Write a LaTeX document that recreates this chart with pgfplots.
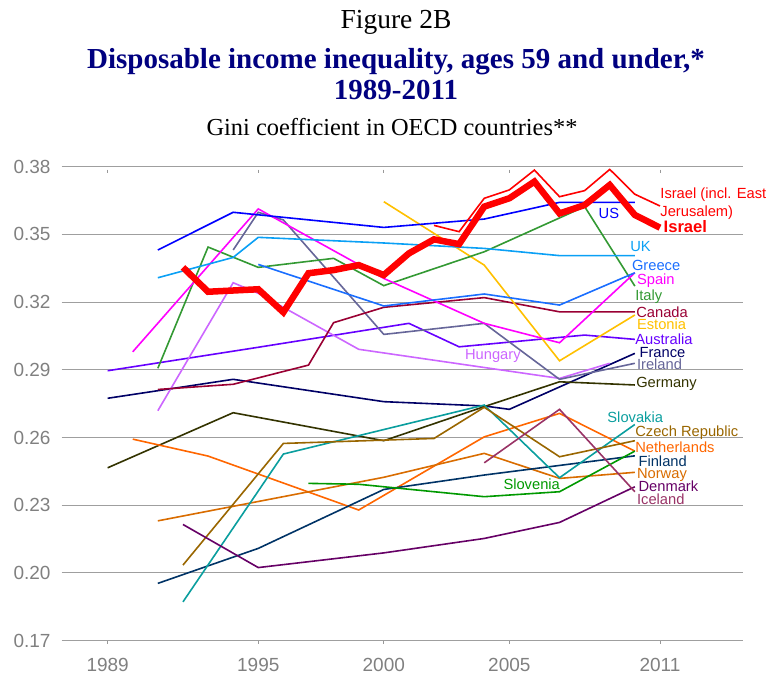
\documentclass[border=0pt]{standalone}
\usepackage{fontspec}
\setmainfont{Liberation Sans}
\newfontfamily\seriffont{Liberation Serif}
\usepackage{pgfplots}
\pgfplotsset{compat=1.18}
\definecolor{navyt}{HTML}{000080}
\definecolor{cIsr}{HTML}{FF0000}
\definecolor{cUS}{HTML}{0000FF}
\definecolor{cUK}{HTML}{0AA0F5}
\definecolor{cGre}{HTML}{1A6EFF}
\definecolor{cSpa}{HTML}{FF00FF}
\definecolor{cIta}{HTML}{339933}
\definecolor{cCan}{HTML}{990033}
\definecolor{cEst}{HTML}{FFC000}
\definecolor{cAus}{HTML}{6600FF}
\definecolor{cFra}{HTML}{000066}
\definecolor{cIre}{HTML}{666699}
\definecolor{cHun}{HTML}{CC66FF}
\definecolor{cGer}{HTML}{333300}
\definecolor{cSvk}{HTML}{0A9E9E}
\definecolor{cCze}{HTML}{996600}
\definecolor{cNet}{HTML}{FF6600}
\definecolor{cNor}{HTML}{D96C00}
\definecolor{cFin}{HTML}{003366}
\definecolor{cSvn}{HTML}{009900}
\definecolor{cDen}{HTML}{660066}
\definecolor{cIce}{HTML}{993366}
\tikzset{lbl/.style={anchor=west, inner sep=0pt, text height=10.5pt, text depth=0pt, font=\fontsize{14.7}{16}\selectfont}}
\begin{document}
\begin{tikzpicture}
\path[use as bounding box] (-61.7pt,-36.3pt) rectangle (705.3pt,640.7pt);
\begin{axis}[
  at={(0pt,0pt)}, anchor=south west,
  scale only axis, width=681.6pt, height=474pt,
  xmin=1987.17, xmax=2014.32, ymin=0.17, ymax=0.38,
  axis line style={draw=none},
  ymajorgrids, grid style={gray!75, line width=1pt},
  xtick={1989,1995,2000,2005,2011},
  xticklabels={1989,1995,2000,2005,2011},
  ytick={0.17,0.20,0.23,0.26,0.29,0.32,0.35,0.38},
  yticklabels={0.17,0.20,0.23,0.26,0.29,0.32,0.35,0.38},
  tick label style={font=\fontsize{19}{22}\selectfont, text=black!50},
  ytick style={draw=none},
  xtick style={draw=gray!80, line width=0.8pt, yshift=-3pt},
  tick align=inside, major tick length=3pt,
  yticklabel style={anchor=east, inner sep=0pt, xshift=-11pt},
  xticklabel style={anchor=base, inner sep=0pt, yshift=-30.3pt},
  clip=false,
  every axis plot/.append style={line width=1.6pt, mark=none},
]
% Australia
\addplot[cAus] coordinates {(1989,0.2896)(1995,0.3000)(2001,0.3106)(2003,0.3002)(2008,0.3054)(2010,0.3035)};
% France
\addplot[cFra] coordinates {(1989,0.2774)(1994,0.2858)(2000,0.2759)(2004,0.2740)(2005,0.2725)(2010,0.2973)};
% Germany
\addplot[cGer] coordinates {(1989,0.2466)(1994,0.2710)(2000,0.2586)(2004,0.2737)(2007,0.2847)(2010,0.2833)};
% Netherlands
\addplot[cNet] coordinates {(1990,0.2593)(1993,0.2518)(1999,0.2279)(2004,0.2603)(2007,0.2707)(2010,0.2540)};
% Norway
\addplot[cNor] coordinates {(1991,0.2231)(2000,0.2424)(2004,0.2530)(2007,0.2419)(2010,0.2446)};
% Finland
\addplot[cFin] coordinates {(1991,0.1954)(1995,0.2109)(2000,0.2370)(2004,0.2434)(2010,0.2519)};
% Slovakia
\addplot[cSvk] coordinates {(1992,0.1872)(1996,0.2527)(2004,0.2744)(2007,0.2422)(2010,0.2658)};
% Czech Republic
\addplot[cCze] coordinates {(1992,0.2035)(1996,0.2574)(2002,0.2596)(2004,0.2734)(2007,0.2515)(2010,0.2586)};
% Slovenia
\addplot[cSvn] coordinates {(1997,0.2397)(1999,0.2393)(2004,0.2338)(2007,0.2360)(2010,0.2540)};
% Denmark
\addplot[cDen] coordinates {(1992,0.2215)(1995,0.2024)(2000,0.2089)(2004,0.2153)(2007,0.2224)(2010,0.2382)};
% Iceland
\addplot[cIce] coordinates {(2004,0.2488)(2007,0.2725)(2010,0.2360)};
% Hungary
\addplot[cHun] coordinates {(1991,0.2719)(1994,0.3286)(1995,0.3239)(1999,0.2991)(2007,0.2862)(2009,0.2929)};
% Ireland
\addplot[cIre] coordinates {(1994,0.3431)(1995,0.3598)(1996,0.3564)(2000,0.3057)(2004,0.3106)(2007,0.2858)(2010,0.2929)};
% Canada
\addplot[cCan] coordinates {(1991,0.2813)(1994,0.2836)(1997,0.2921)(1998,0.3109)(2000,0.3177)(2004,0.3220)(2007,0.3157)(2010,0.3157)};
% Estonia
\addplot[cEst] coordinates {(2000,0.3645)(2004,0.3364)(2007,0.2940)(2010,0.3143)};
% Italy
\addplot[cIta] coordinates {(1991,0.2907)(1993,0.3444)(1995,0.3354)(1998,0.3394)(2000,0.3273)(2004,0.3423)(2008,0.3623)(2010,0.3271)};
% Spain
\addplot[cSpa] coordinates {(1990,0.2980)(1995,0.3613)(2000,0.3305)(2004,0.3106)(2007,0.3020)(2010,0.3330)};
% Greece
\addplot[cGre] coordinates {(1995,0.3367)(2000,0.3183)(2004,0.3236)(2007,0.3187)(2010,0.3330)};
% UK
\addplot[cUK] coordinates {(1991,0.3308)(1994,0.3398)(1995,0.3487)(2000,0.3462)(2004,0.3438)(2007,0.3406)(2010,0.3406)};
% US
\addplot[cUS] coordinates {(1991,0.3431)(1994,0.3598)(2000,0.3531)(2004,0.3568)(2007,0.3642)(2010,0.3642)};
% Israel
\addplot[cIsr, line width=6.5pt, line join=miter] coordinates {(1992,0.3354)(1993,0.3246)(1995,0.3257)(1996,0.3155)(1997,0.3328)(1998,0.3342)(1999,0.3364)(2000,0.3320)(2001,0.3416)(2002,0.3478)(2003,0.3457)(2004,0.3623)(2005,0.3660)(2006,0.3734)(2007,0.3593)(2008,0.3630)(2009,0.3719)(2010,0.3586)(2011,0.3530)};
% Israel incl. East Jerusalem
\addplot[cIsr] coordinates {(2002,0.3540)(2003,0.3512)(2004,0.3660)(2005,0.3697)(2006,0.3785)(2007,0.3667)(2008,0.3694)(2009,0.3788)(2010,0.3678)(2011,0.3626)};

\node[lbl, text=cIsr] at (axis cs:2011.01,0.3682) {Israel (incl. East};
\node[lbl, text=cIsr] at (axis cs:2011.01,0.3604) {Jerusalem)};
\node[lbl, text=cIsr, font=\bfseries\fontsize{16.6}{18}\selectfont, text height=12pt] at (axis cs:2011.14,0.3533) {Israel};
\node[lbl, text=cUS] at (axis cs:2008.55,0.3595) {US};
\node[lbl, text=cUK] at (axis cs:2009.81,0.3449) {UK};
\node[lbl, text=cGre] at (axis cs:2009.88,0.3364) {Greece};
\node[lbl, text=cSpa] at (axis cs:2010.08,0.3302) {Spain};
\node[lbl, text=cIta] at (axis cs:2010.01,0.3231) {Italy};
\node[lbl, text=cCan] at (axis cs:2010.05,0.3157) {Canada};
\node[lbl, text=cEst] at (axis cs:2010.08,0.3103) {Estonia};
\node[lbl, text=cAus] at (axis cs:2010.01,0.3035) {Australia};
\node[lbl, text=cFra] at (axis cs:2010.18,0.2978) {France};
\node[lbl, text=cIre] at (axis cs:2010.08,0.2926) {Ireland};
\node[lbl, text=cGer] at (axis cs:2010.05,0.2845) {Germany};
\node[lbl, text=cHun] at (axis cs:2003.23,0.2970) {Hungary};
\node[lbl, text=cSvk] at (axis cs:2008.90,0.2690) {Slovakia};
\node[lbl, text=cCze] at (axis cs:2010.01,0.2629) {Czech Republic};
\node[lbl, text=cNet] at (axis cs:2010.01,0.2555) {Netherlands};
\node[lbl, text=cFin] at (axis cs:2010.14,0.2497) {Finland};
\node[lbl, text=cNor] at (axis cs:2010.08,0.2441) {Norway};
\node[lbl, text=cSvn] at (axis cs:2004.76,0.2393) {Slovenia};
\node[lbl, text=cDen] at (axis cs:2010.14,0.2385) {Denmark};
\node[lbl, text=cIce] at (axis cs:2010.08,0.2328) {Iceland};
\end{axis}
\node[anchor=base, font=\seriffont\fontsize{27.5}{30}\selectfont] at (334.3pt,612.4pt) {Figure 2B};
\node[anchor=base, text=navyt, font=\seriffont\bfseries\fontsize{29}{32}\selectfont] at (334.3pt,571.7pt) {Disposable income inequality, ages 59 and under,*};
\node[anchor=base, text=navyt, font=\seriffont\bfseries\fontsize{29}{32}\selectfont] at (334.3pt,540.7pt) {1989-2011};
\node[anchor=base, font=\seriffont\fontsize{24.4}{28}\selectfont] at (330.3pt,504.7pt) {Gini coefficient in OECD countries**};
\end{tikzpicture}
\end{document}
